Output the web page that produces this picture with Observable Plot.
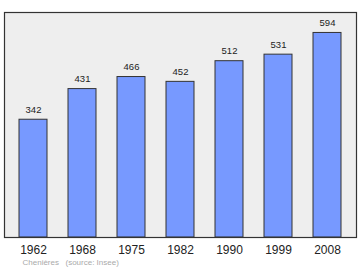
<!DOCTYPE html>
<html><head><meta charset="utf-8">
<script src="https://cdn.jsdelivr.net/npm/d3@7"></script>
<script src="https://cdn.jsdelivr.net/npm/@observablehq/plot@0.6"></script>
<style>body{margin:0;background:#fff;font-family:"Liberation Sans",Arial,sans-serif;}</style>
</head><body><div id="chart"></div>
<script>
const years = ["1962","1968","1975","1982","1990","1999","2008"];
const population = [342,431,466,452,512,531,594];
const caption = ["Chenières", "(source: Insee)"];
const data = years.map((y,i)=>({year:y, pop:population[i]}));
const maxV = d3.max(population)*1.1;
const chart = Plot.plot({
  width:360, height:270,
  marginTop:12, marginBottom:33, marginLeft:4, marginRight:4,
  style:{fontFamily:'"Liberation Sans",Arial,sans-serif', background:"#fff"},
  x:{domain:years, paddingInner:0.43, paddingOuter:0.29, axis:null},
  y:{domain:[0,maxV], axis:null},
  marks:[
    Plot.frame({fill:"#eeeeee"}),
    Plot.barY(data,{x:"year", y:"pop", fill:"#7799ff", stroke:"#333", strokeWidth:1}),
    Plot.text(data,{x:"year", y:"pop", text:d=>String(d.pop), dy:-10, fontSize:9.5, fill:"#222", lineAnchor:"middle"}),
    Plot.text(data,{x:"year", frameAnchor:"bottom", text:"year", dy:12.5, fontSize:12, fill:"#222", lineAnchor:"middle"}),
    Plot.frame({stroke:"#333", strokeWidth:1.2}),
    Plot.text([caption[0]],{frameAnchor:"bottom-left", text:d=>d, dx:18, dy:25, fontSize:8, fill:"#aaa", textAnchor:"start", lineAnchor:"middle"}),
    Plot.text([caption[1]],{frameAnchor:"bottom-left", text:d=>d, dx:61, dy:25, fontSize:8, fill:"#aaa", textAnchor:"start", lineAnchor:"middle"})
  ]
});
document.getElementById("chart").appendChild(chart);
</script></body></html>
